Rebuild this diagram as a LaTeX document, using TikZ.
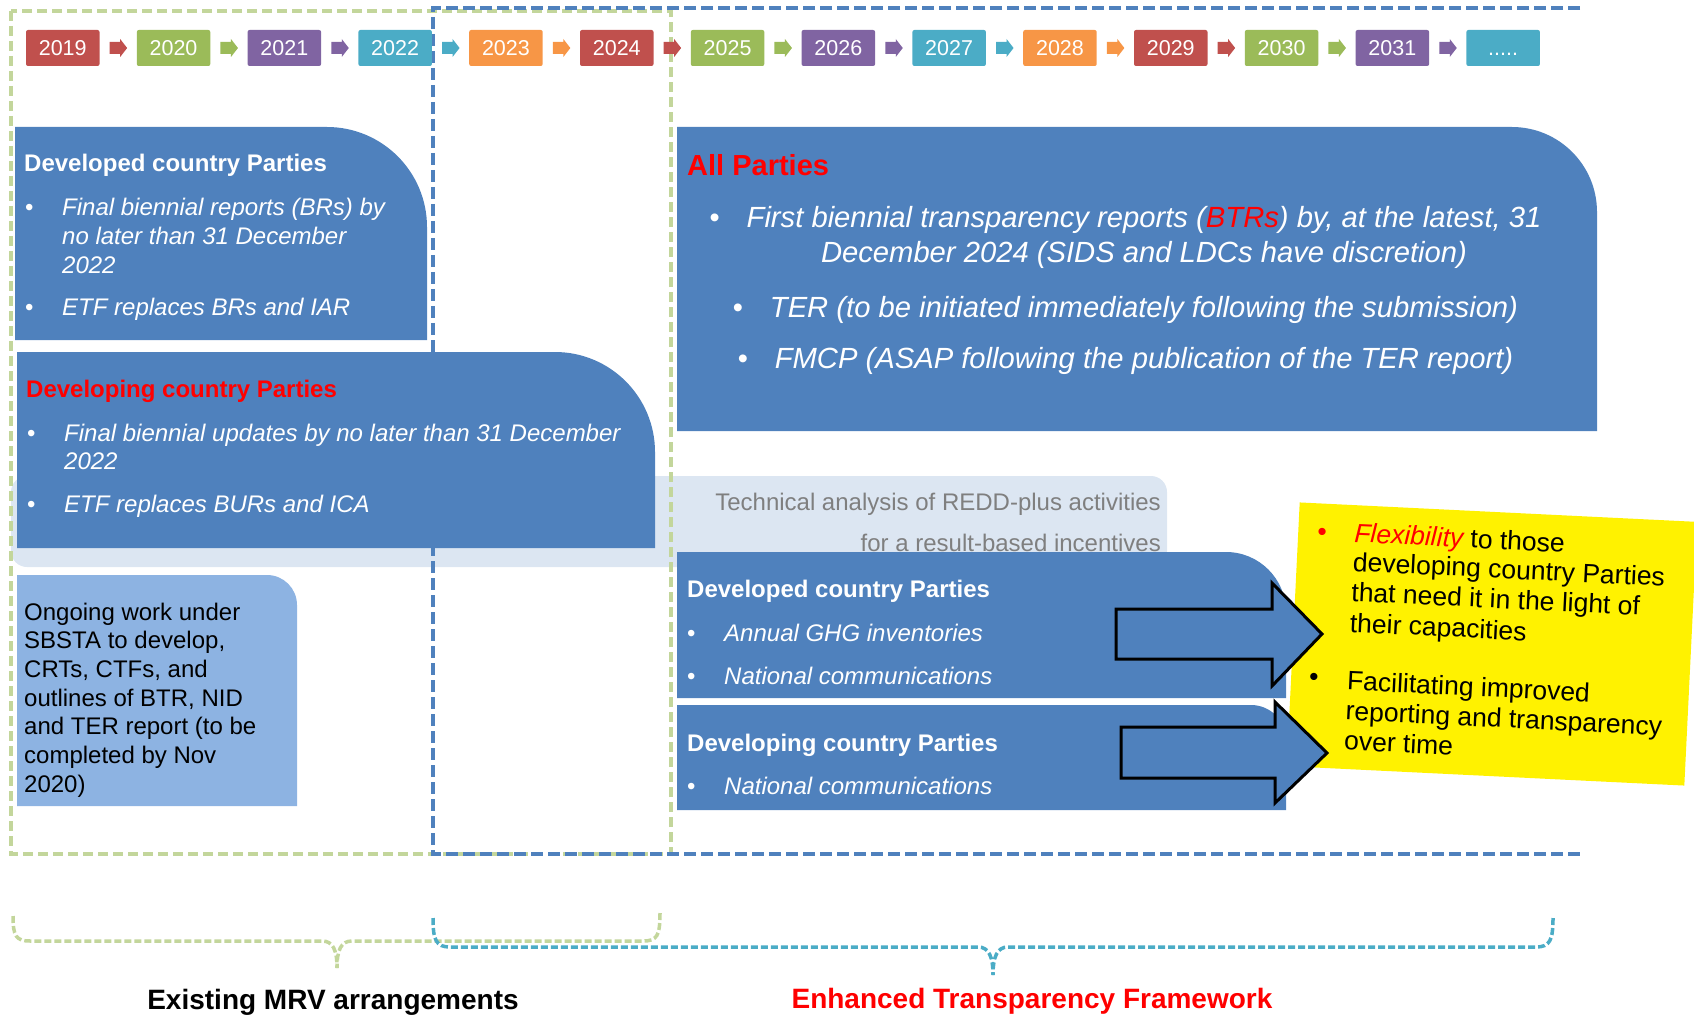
\documentclass[tikz,border=0pt]{standalone}
\usepackage{fontspec}
\setmainfont{Liberation Sans}
\usetikzlibrary{calc}
\definecolor{bxblue}{HTML}{4F81BD}
\definecolor{lband}{HTML}{DCE6F2}
\definecolor{ongo}{HTML}{8DB3E2}
\definecolor{cR}{HTML}{C0504D}
\definecolor{cG}{HTML}{9BBB59}
\definecolor{cP}{HTML}{8064A2}
\definecolor{cC}{HTML}{4BACC6}
\definecolor{cO}{HTML}{F79646}
\definecolor{gdash}{HTML}{C3D69B}
\definecolor{greytxt}{HTML}{7F7F7F}
\newcommand\myfs[1]{\fontsize{#1}{#1}\selectfont}
% x1,y1,x2,y2,radius,colour : box with one rounded (top right) corner
\newcommand\tabshape[6]{\fill[#6] (#1,#4) -- (#1,#2) -- ({#3-#5},#2) .. controls ({#3-0.448*#5},#2) and (#3,{#2+0.448*#5}) .. (#3,{#2+#5}) -- (#3,#4) -- cycle;}
\begin{document}
\begin{tikzpicture}[x=1pt,y=-1pt,
 tx/.style={inner sep=0pt, anchor=base west},
 hd/.style={tx, text=white, font=\myfs{24}\bfseries},
 it/.style={tx, text=white, font=\myfs{24}\itshape},
 bu/.style={tx, text=white, font=\myfs{24}},
 bk/.style={tx, text=black, font=\myfs{24}},
 itc/.style={inner sep=0pt, anchor=base, text=white, font=\myfs{29.2}\itshape},
 buc/.style={tx, text=white, font=\myfs{29}},
 yt/.style={tx, text=black, font=\myfs{26.5}, transform shape},
 gr/.style={inner sep=0pt, anchor=base east, text=greytxt, font=\myfs{24}},
 yearbox/.style={minimum width=73.5pt, minimum height=36pt, inner sep=0pt, text height=15.5pt, text depth=0pt, rounded corners=2pt, text=white, font=\myfs{21.5}},
 bigarrow/.style={draw=black, line width=3pt, fill=bxblue, line join=miter},
 gframe/.style={draw=gdash, line width=3.5pt, dash pattern=on 10pt off 5pt},
 bframe/.style={draw=bxblue, line width=3.5pt, dash pattern=on 12pt off 5pt},
 gbrace/.style={draw=gdash, line width=3.5pt, dash pattern=on 7pt off 3pt},
 cbrace/.style={draw=cC, line width=3.5pt, dash pattern=on 7pt off 3pt},
 lab/.style={inner sep=0pt, anchor=base, font=\myfs{28}\bfseries}]
\path[use as bounding box] (0,0) rectangle (1694,1016);
\clip (0,0) rectangle (1694,1016);

% light band (REDD-plus)
\fill[lband, rounded corners=16pt] (11,476) rectangle (1167,567);
\node[gr] (t1) at (1161,510) {Technical analysis of REDD-plus activities};
\node[gr] (t2) at (1161,551) {for a result-based incentives};

% dashed frames
\draw[gframe] (11,11) rectangle (671,854);
\draw[bframe] (1580,8) -- (433,8) -- (433,854) -- (1580,854);

% boxes
\tabshape{15}{127}{427}{340}{100}{bxblue}
\tabshape{17}{352}{655}{548}{100}{bxblue}
\tabshape{17}{575}{297}{806}{30}{ongo}
\tabshape{677}{127}{1597}{431}{85}{bxblue}
\tabshape{677}{552}{1286}{698}{60}{bxblue}
\tabshape{677}{705}{1286}{810}{35}{bxblue}

% box A
\node[hd] (a0) at (24,172) {Developed country Parties};
\node[bu] (a1b) at (25,216) {•};
\node[it] (a1) at (62,216) {Final biennial reports (BRs) by};
\node[it] (a2) at (62,245) {no later than 31 December};
\node[it] (a3) at (62,273) {2022};
\node[bu] (a4b) at (25,316) {•};
\node[it] (a4) at (62,316) {ETF replaces BRs and IAR};

% box B
\node[hd, text=red] (b0) at (26,397) {Developing country Parties};
\node[bu] (b1b) at (27,441) {•};
\node[it] (b1) at (64,441) {Final biennial updates by no later than 31 December};
\node[it] (b2) at (64,469) {2022};
\node[bu] (b3b) at (27,512) {•};
\node[it] (b3) at (64,512) {ETF replaces BURs and ICA};

% box C
\foreach \t [count=\k from 0] in {Ongoing work under, {SBSTA to develop,}, {CRTs, CTFs, and}, {outlines of BTR, NID}, and TER report (to be, completed by Nov, 2020)}
  \node[bk] (c\k) at (24,{620+28.7*\k}) {\t};

% box D
\node[tx, text=red, font=\myfs{29}\bfseries] (d0) at (687,176) {All Parties};
\node[itc] (d1) at (1144,228) {First biennial transparency reports (\textcolor{red}{BTRs}) by, at the latest, 31};
\node[buc] (d1b) at ($(d1.base west)+(-37,0)$) {•};
\node[itc] (d2) at (1144,263) {December 2024 (SIDS and LDCs have discretion)};
\node[itc] (d3) at (1144,317) {TER (to be initiated immediately following the submission)};
\node[buc] (d3b) at ($(d3.base west)+(-37,0)$) {•};
\node[itc] (d4) at (1144,368) {FMCP (ASAP following the publication of the TER report)};
\node[buc] (d4b) at ($(d4.base west)+(-37,0)$) {•};

% box E
\node[hd] (e0) at (687,597) {Developed country Parties};
\node[bu] (e1b) at (687,641) {•};
\node[it] (e1) at (724,641) {Annual GHG inventories};
\node[bu] (e2b) at (687,684) {•};
\node[it] (e2) at (724,684) {National communications};

% box F
\node[hd] (f0) at (687,751) {Developing country Parties};
\node[bu] (f1b) at (687,794) {•};
\node[it] (f1) at (724,794) {National communications};

% yellow note
\begin{scope}[shift={(1492,644)}, rotate=-2.8]
  \node[fill=yellow, minimum width=398pt, minimum height=264pt, inner sep=0pt, transform shape] (yel) at (0,0) {};
  \node[yt, text=red] (y1b) at (-180,-95) {•};
  \node[yt] (y1) at (-143,-95) {\textcolor{red}{\itshape Flexibility} to those};
  \node[yt] (y2) at (-143,-66) {developing country Parties};
  \node[yt] (y3) at (-143,-36) {that need it in the light of};
  \node[yt] (y4) at (-143,-5) {their capacities};
  \node[yt] (y5b) at (-181,50) {•};
  \node[yt] (y5) at (-143,53) {Facilitating improved};
  \node[yt] (y6) at (-143,83) {reporting and transparency};
  \node[yt] (y7) at (-143,113) {over time};
\end{scope}

% big arrows
\draw[bigarrow] (1116,609) -- (1272,609) -- (1272,583) -- (1322,634) -- (1272,686) -- (1272,659) -- (1116,659) -- cycle;
\draw[bigarrow] (1121,727) -- (1275,727) -- (1275,702) -- (1327,753) -- (1275,803) -- (1275,778) -- (1121,778) -- cycle;

% timeline
\foreach \yr/\col [count=\i from 0] in {2019/cR,2020/cG,2021/cP,2022/cC,2023/cO,2024/cR,2025/cG,2026/cP,2027/cC,2028/cO,2029/cR,2030/cG,2031/cP}
  \node[yearbox, fill=\col] (yr\i) at ({62.75+110.8*\i},48) {\yr};
\node[yearbox, fill=cC] (yr13) at ({62.75+110.8*13},48) {.....};
\foreach \i/\col in {0/cR,1/cG,2/cP,3/cC,4/cO,5/cR,6/cG,7/cP,8/cC,9/cO,10/cR,11/cG,12/cP}{
  \pgfmathtruncatemacro\j{\i+1}
  \coordinate (m\i) at ($(yr\i.east)!0.5!(yr\j.west)$);
  \fill[\col, shift={(m\i)}] (-8.5,-6) -- (2,-6) -- (2,-9) -- (9,0) -- (2,9) -- (2,6) -- (-8.5,6) -- cycle;
}

% braces
\draw[gbrace] (13,916) .. controls (13,936) and (16,941) .. (30,941) -- (322,941) .. controls (333,941) and (337,950) .. (337,968);
\draw[gbrace] (660,913) .. controls (660,936) and (657,941) .. (643,941) -- (352,941) .. controls (341,941) and (337,950) .. (337,968);
\draw[cbrace] (433,918) .. controls (433,940) and (436,947) .. (450,947) -- (978,947) .. controls (989,947) and (993,957) .. (993,975);
\draw[cbrace] (1553,918) .. controls (1553,940) and (1550,947) .. (1536,947) -- (1008,947) .. controls (997,947) and (993,957) .. (993,975);
\node[lab] (l1) at (333,1009) {Existing MRV arrangements};
\node[lab, text=red] (l2) at (1032,1008) {Enhanced Transparency Framework};
\end{tikzpicture}
\end{document}
